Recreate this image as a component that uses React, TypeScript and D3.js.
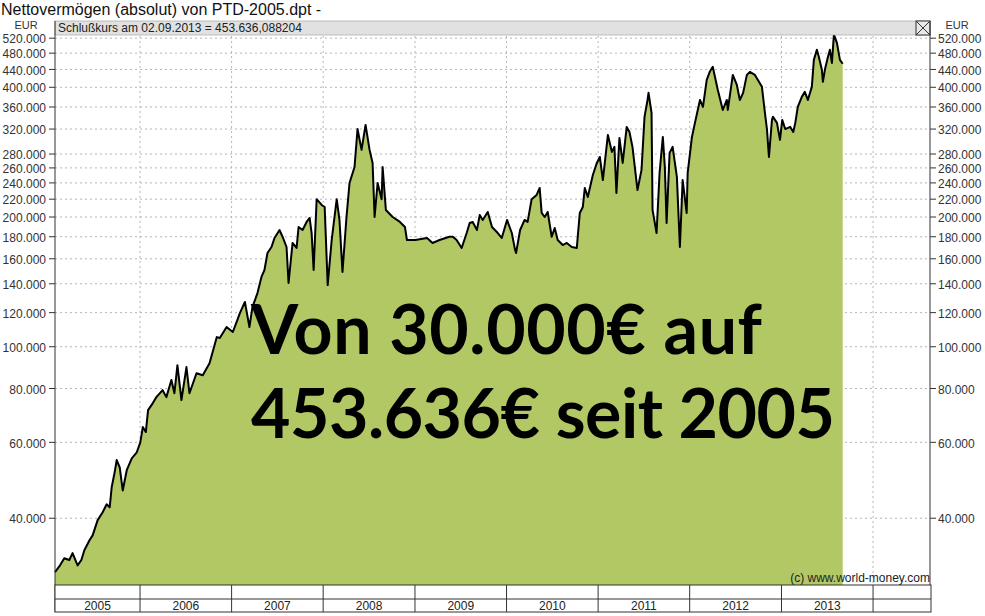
import React from "react";
import * as d3 from "d3";

const dates: string[] = [
  "2005-01-27","2005-02-16","2005-03-05","2005-03-25","2005-04-07","2005-04-27","2005-05-12","2005-05-24","2005-06-14","2005-06-26",
  "2005-07-16","2005-08-05","2005-08-21","2005-09-02","2005-09-10","2005-09-22","2005-09-30","2005-10-12","2005-10-24","2005-11-09",
  "2005-11-29","2005-12-19",
  "2006-01-02","2006-01-12","2006-01-24","2006-02-02","2006-02-21","2006-03-07","2006-04-01","2006-04-16","2006-05-06","2006-05-18",
  "2006-05-30","2006-06-15","2006-07-05","2006-07-17","2006-08-14","2006-09-08","2006-10-05","2006-11-03","2006-11-15","2006-12-12",
  "2007-01-06","2007-02-03","2007-02-23","2007-03-13","2007-03-25","2007-04-14","2007-04-30","2007-05-12","2007-05-24","2007-06-09",
  "2007-06-21","2007-07-11","2007-07-23","2007-08-08","2007-08-16","2007-09-01","2007-09-17","2007-09-25","2007-10-11","2007-10-27",
  "2007-11-08","2007-11-16","2007-11-24","2007-12-06","2007-12-26",
  "2008-01-07","2008-01-19","2008-02-04","2008-02-24","2008-03-06","2008-03-18","2008-04-03","2008-04-15","2008-05-05","2008-05-17",
  "2008-06-02","2008-06-18","2008-07-04","2008-07-16","2008-07-24","2008-08-05","2008-08-21","2008-08-25","2008-09-07","2008-10-04",
  "2008-11-02","2008-11-22","2008-11-30",
  "2009-01-02","2009-02-18","2009-03-12","2009-04-09","2009-05-18","2009-06-01","2009-06-16","2009-07-06","2009-07-26","2009-08-07",
  "2009-08-19","2009-09-05","2009-09-16","2009-09-28","2009-10-18","2009-11-04","2009-11-27","2009-12-13",
  "2010-01-03","2010-01-22","2010-02-04","2010-02-08","2010-02-24","2010-03-14","2010-03-26","2010-04-11","2010-05-01","2010-05-13",
  "2010-05-21","2010-06-02","2010-06-14","2010-06-30","2010-07-12","2010-07-24","2010-08-13","2010-08-29","2010-09-18","2010-10-08",
  "2010-10-20","2010-11-01","2010-11-09","2010-11-21","2010-12-11","2010-12-27",
  "2011-01-08","2011-01-20","2011-02-09","2011-02-25","2011-03-07","2011-03-15","2011-03-27","2011-04-09","2011-04-25","2011-05-06",
  "2011-05-18","2011-06-07","2011-06-23","2011-07-05","2011-07-17","2011-07-21","2011-08-02","2011-08-06","2011-08-22","2011-09-03",
  "2011-09-16","2011-09-24","2011-10-01","2011-10-13","2011-10-25","2011-11-11","2011-11-23","2011-12-04","2011-12-20","2011-12-24",
  "2012-01-10","2012-01-22","2012-02-11","2012-02-23","2012-03-09","2012-03-21","2012-04-02","2012-04-22","2012-05-12","2012-05-28",
  "2012-06-01","2012-06-21","2012-07-07","2012-07-19","2012-08-01","2012-08-16","2012-08-28","2012-09-17","2012-09-29","2012-10-15",
  "2012-10-27","2012-11-04","2012-11-12","2012-11-24","2012-11-28","2012-12-14","2012-12-26",
  "2013-01-04","2013-01-16","2013-02-05","2013-02-17","2013-02-25","2013-03-07","2013-03-23","2013-04-04","2013-04-16","2013-05-02",
  "2013-05-10","2013-05-22","2013-05-30","2013-06-11","2013-06-15","2013-06-23","2013-07-05","2013-07-13","2013-07-21","2013-07-29",
  "2013-08-10","2013-08-22","2013-09-02"
];

const values: number[] = [
  30000,31100,32300,32000,33200,31100,32000,33700,35600,36500,
  39600,41300,43100,42400,47200,51200,54600,52500,46400,51700,
  55100,56900,
  60000,65100,63400,71300,74000,76400,79300,76400,83700,78000,
  90600,75200,89700,78000,86800,85900,91600,105300,104800,111100,
  108200,119700,127000,111100,123600,133200,145200,150700,165000,170400,
  178800,186600,180000,170400,140600,174100,169500,189600,186600,194800,
  199000,183600,150700,220000,213300,
  211000,139000,176900,220000,196900,149100,200000,239900,261300,320000,
  286300,327200,286300,267000,200000,239900,220000,261300,207700,200000,
  194800,189600,176900,
  176900,178800,174100,176900,180000,180000,176900,169500,183600,193700,
  194800,186600,202100,196900,205500,189600,183600,178800,
  196900,183600,167700,165000,186600,196900,194800,220000,225000,233600,
  204400,200000,205500,180000,188600,176900,172200,174100,170400,169500,
  204400,211000,233600,222600,250400,267000,
  275600,243700,310100,283200,291000,227400,305200,267000,323700,315100,
  291000,231000,257200,341600,373800,388300,348900,207700,183600,253100,
  306800,261300,193700,281700,291000,247800,170400,243700,204400,253100,
  306800,330700,373800,360300,416000,434400,446300,394600,354500,373800,
  354500,427400,405300,373800,388300,427400,434400,427400,416000,400900,
  348900,320000,275600,336000,341600,330700,302000,
  336000,320000,323700,315100,330700,360300,380000,390300,373800,400900,
  463100,488700,470500,439200,411800,439200,470500,488700,455700,530000,
  507100,463100,453636
];

const yTicks: number[] = [
  40000, 60000, 80000, 100000, 120000, 140000, 160000, 180000, 200000,
  220000, 240000, 260000, 280000, 320000, 360000, 400000, 440000, 480000, 520000
];

const years: number[] = [2005, 2006, 2007, 2008, 2009, 2010, 2011, 2012, 2013, 2014];

const titleText = "Nettovermögen (absolut) von PTD-2005.dpt -";
const headerText = "Schlußkurs am 02.09.2013 = 453.636,088204";
const bigLine1 = "Von 30.000€ auf";
const bigLine2 = "453.636€ seit 2005";
const copyright = "(c) www.world-money.com";

const W = 985;
const H = 616;
const L = 55;
const R = 930;
const RB = 931;
const T = 21;
const B = 585;
const MID = 599;
const BOT = 612;
const FONT = "'Liberation Sans', Arial, Helvetica, sans-serif";
const BIG = "Lato, 'Open Sans', sans-serif";

export default function App() {
  const parse = d3.timeParse("%Y-%m-%d");
  const data = dates.map((d, i) => ({ date: parse(d) as Date, value: values[i] }));
  const x = d3.scaleTime().domain([new Date(2005, 0, 27), new Date(2014, 7, 20)]).range([L, RB]);
  const y = d3.scaleLog().domain([28000, 570000]).range([B, T]);

  const area = d3
    .area<{ date: Date; value: number }>()
    .x((d) => x(d.date))
    .y0(B)
    .y1((d) => y(d.value));
  const line = d3
    .line<{ date: Date; value: number }>()
    .x((d) => x(d.date))
    .y((d) => y(d.value));

  const fmt = (v: number) => d3.format(",")(v).replace(/,/g, ".");
  const boundaries = years.slice(1).map((yr) => x(new Date(yr, 0, 1)));
  const cells = years.map((yr, i) => {
    const a = i === 0 ? L : x(new Date(yr, 0, 1));
    const b = i === years.length - 1 ? RB : x(new Date(yr + 1, 0, 1));
    return { yr, a, b };
  });

  return (
    <svg
      width={W}
      height={H}
      viewBox={`0 0 ${W} ${H}`}
      style={{ position: "absolute", left: 0, top: 0, background: "#fff" }}
    >
      <rect x={0} y={0} width={W} height={H} fill="#fff" />
      <text x={1} y={15} fontFamily={FONT} fontSize={16} fill="#111">
        {titleText}
      </text>

      {/* grid */}
      {yTicks.map((t) => (
        <line key={"g" + t} x1={L} x2={R} y1={y(t)} y2={y(t)} stroke="#b5b5b5" strokeDasharray="2,3" strokeWidth={1} />
      ))}
      {boundaries.map((bx, i) => (
        <line key={"v" + i} x1={bx} x2={bx} y1={T} y2={B} stroke="#b5b5b5" strokeDasharray="2,3" strokeWidth={1} />
      ))}

      {/* area + line */}
      <path d={area(data) || ""} fill="#b1c865" />
      <path d={line(data) || ""} fill="none" stroke="#000" strokeWidth={2} strokeLinejoin="round" />

      {/* header bar */}
      <rect x={L} y={T} width={R - L} height={14} fill="#e1e1e1" stroke="#9a9a9a" strokeWidth={0.6} />
      <text x={L + 3} y={T + 11} fontFamily={FONT} fontSize={12} fill="#222">
        {headerText}
      </text>
      <rect x={916} y={T} width={14} height={14} fill="#e8e8e8" stroke="#333" strokeWidth={1} />
      <line x1={916} y1={T} x2={930} y2={T + 14} stroke="#333" strokeWidth={1} />
      <line x1={930} y1={T} x2={916} y2={T + 14} stroke="#333" strokeWidth={1} />

      {/* axes */}
      <line x1={L} x2={L} y1={T} y2={BOT} stroke="#333" strokeWidth={1} />
      <line x1={R} x2={R} y1={T} y2={B} stroke="#333" strokeWidth={1} />
      <text x={26} y={29} textAnchor="middle" fontFamily={FONT} fontSize={11} fill="#333">EUR</text>
      <text x={957} y={29} textAnchor="middle" fontFamily={FONT} fontSize={11} fill="#333">EUR</text>
      {yTicks.map((t) => (
        <g key={"t" + t}>
          <line x1={L - 6} x2={L} y1={y(t)} y2={y(t)} stroke="#333" />
          <line x1={R} x2={R + 6} y1={y(t)} y2={y(t)} stroke="#333" />
          <text x={L - 9} y={y(t) + 1} dy="0.35em" textAnchor="end" fontFamily={FONT} fontSize={12} fill="#333">
            {fmt(t)}
          </text>
          <text x={R + 8} y={y(t) + 1} dy="0.35em" textAnchor="start" fontFamily={FONT} fontSize={12} fill="#333">
            {fmt(t)}
          </text>
        </g>
      ))}

      {/* copyright */}
      <text x={RB - 1} y={582} textAnchor="end" fontFamily={FONT} fontSize={12} fill="#222">
        {copyright}
      </text>

      {/* year box */}
      <rect x={L} y={B} width={RB - L} height={BOT - B} fill="#fff" stroke="#333" strokeWidth={1} />
      <line x1={L} x2={RB} y1={MID} y2={MID} stroke="#333" />
      {boundaries.map((bx, i) => (
        <line key={"d" + i} x1={bx} x2={bx} y1={B} y2={BOT} stroke="#333" />
      ))}
      {cells.slice(0, 9).map((c) => (
        <text key={"y" + c.yr} x={(c.a + c.b) / 2} y={610} textAnchor="middle" fontFamily={FONT} fontSize={12} fill="#222">
          {c.yr}
        </text>
      ))}

      {/* big annotation */}
      <text x={251} y={354} fontFamily={BIG} fontWeight={700} fontSize={68} fill="#000" textLength={511} lengthAdjust="spacing">
        {bigLine1}
      </text>
      <text x={251} y={438} fontFamily={BIG} fontWeight={700} fontSize={68} fill="#000" textLength={584} lengthAdjust="spacing">
        {bigLine2}
      </text>
    </svg>
  );
}
